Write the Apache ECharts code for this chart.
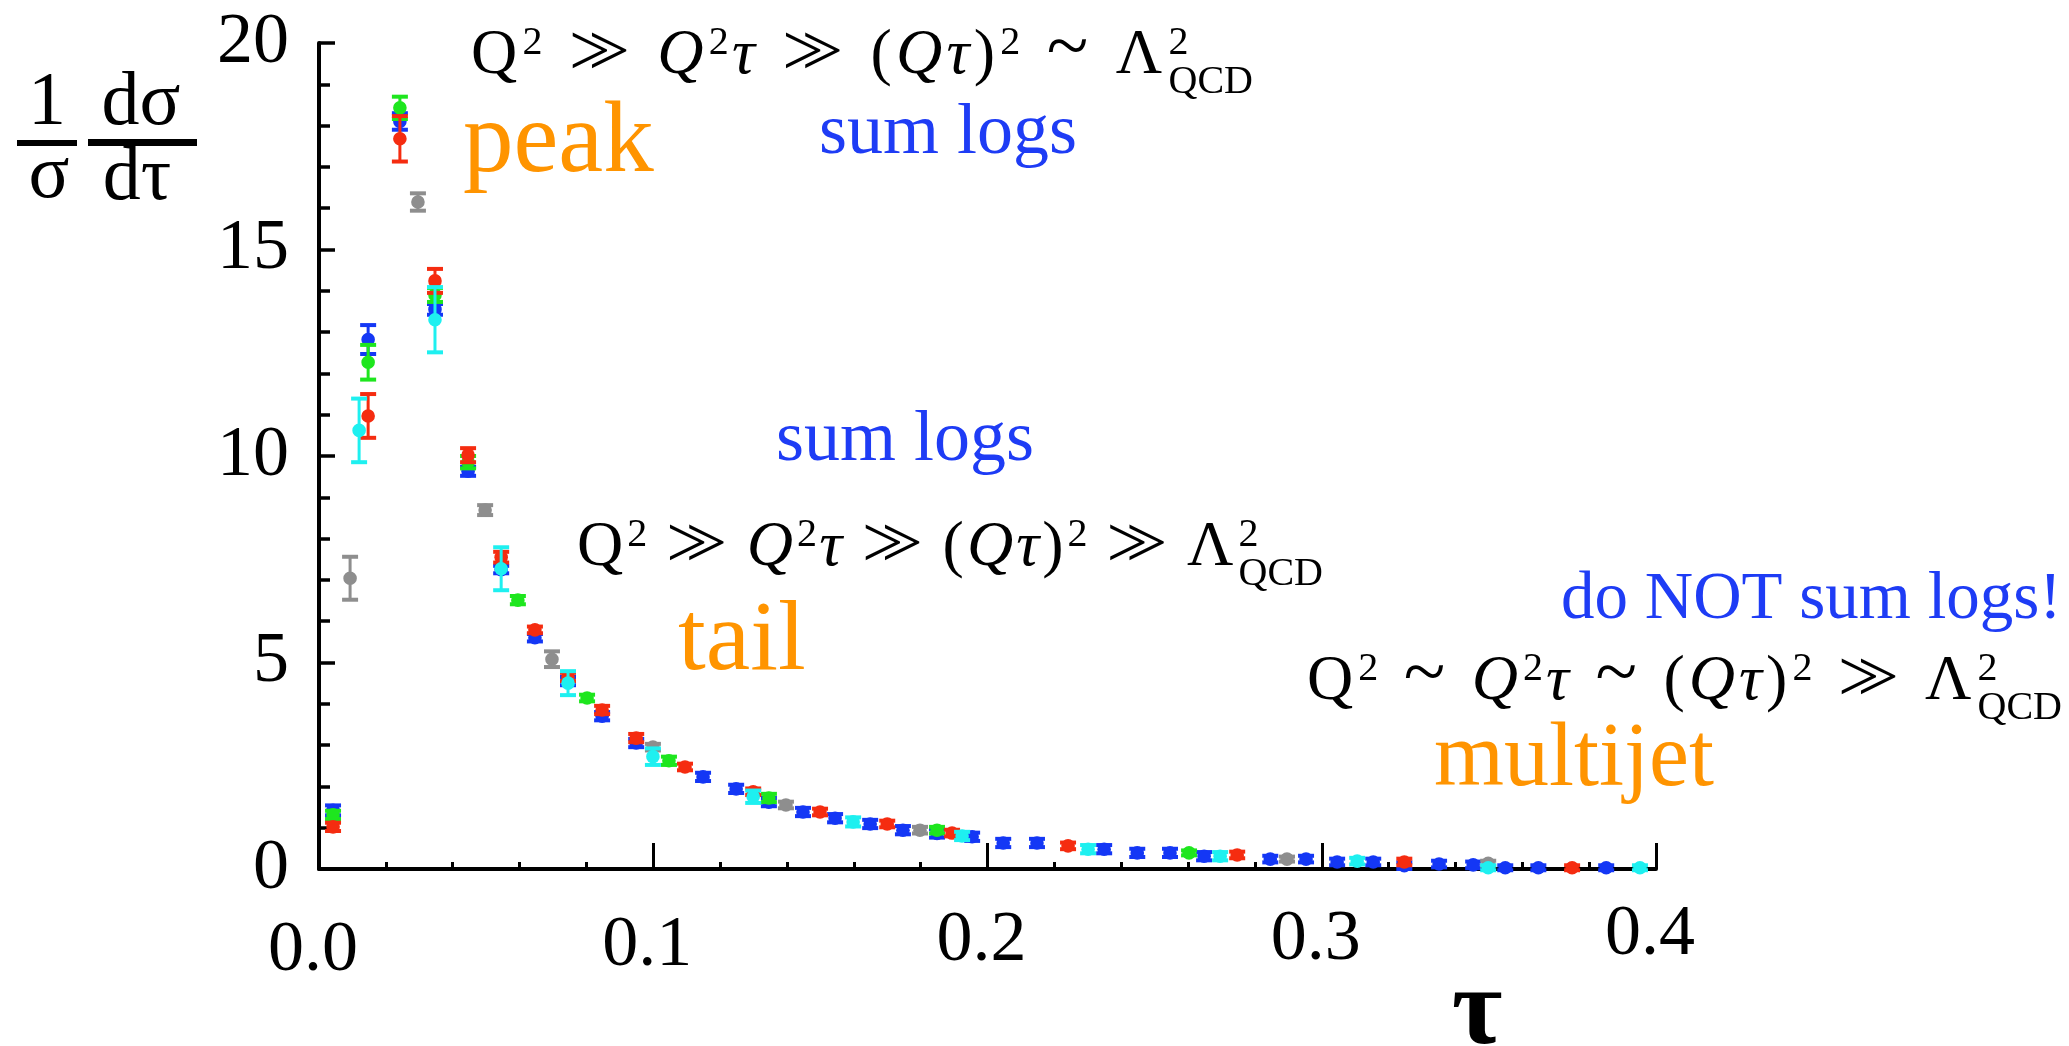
<!DOCTYPE html>
<html>
<head>
<meta charset="utf-8">
<script src="https://cdn.jsdelivr.net/npm/echarts@6/dist/echarts.min.js"></script>
<style>
  html, body { margin: 0; padding: 0; background: #fff; }
  #chart { width: 2069px; height: 1046px; }
</style>
</head>
<body>
<div id="chart"></div>
<script>
// Axis ticks
const xTicks = [0, 0.1, 0.2, 0.3, 0.4];
const yTicks = [0, 5, 10, 15, 20];

// Thrust distribution measurements: [tau, (1/sigma) dsigma/dtau, error]
const blueData = [
  [0.0042, 1.42, 0.12], [0.0147, 12.82, 0.35], [0.0242, 18.10, 0.20], [0.0347, 13.55, 0.13],
  [0.0446, 9.63, 0.11], [0.0545, 7.25, 0.09], [0.0646, 5.60, 0.09], [0.0745, 4.55, 0.10],
  [0.0847, 3.70, 0.10], [0.0949, 3.05, 0.10], [0.1149, 2.23, 0.10], [0.1248, 1.94, 0.10],
  [0.1346, 1.62, 0.10], [0.1448, 1.38, 0.10], [0.1544, 1.23, 0.10], [0.1649, 1.09, 0.10],
  [0.1747, 0.94, 0.10], [0.1849, 0.86, 0.10], [0.1954, 0.78, 0.10], [0.2047, 0.63, 0.10],
  [0.2148, 0.63, 0.10], [0.2349, 0.48, 0.10], [0.2448, 0.39, 0.10], [0.2546, 0.39, 0.10],
  [0.2648, 0.31, 0.10], [0.2846, 0.24, 0.08], [0.2953, 0.24, 0.08], [0.3046, 0.17, 0.08],
  [0.3154, 0.17, 0.08], [0.3247, 0.08, 0.08], [0.3351, 0.12, 0.08], [0.3453, 0.10, 0.08],
  [0.3549, 0.03, 0.06], [0.3648, 0.03, 0.06], [0.3851, 0.03, 0.06]
];
const greenData = [
  [0.0042, 1.31, 0.10], [0.0147, 12.27, 0.42], [0.0242, 18.43, 0.27], [0.0347, 13.90, 0.17],
  [0.0446, 9.85, 0.15], [0.0595, 6.51, 0.10], [0.0802, 4.14, 0.08], [0.1047, 2.62, 0.10],
  [0.1346, 1.72, 0.10], [0.1849, 0.94, 0.08], [0.2603, 0.39, 0.06]
];
const redData = [
  [0.0042, 1.02, 0.10], [0.0147, 10.97, 0.53], [0.0242, 17.68, 0.55], [0.0347, 14.24, 0.29],
  [0.0446, 10.02, 0.17], [0.0545, 7.55, 0.13], [0.0646, 5.79, 0.08], [0.0745, 4.65, 0.10],
  [0.0847, 3.85, 0.10], [0.0949, 3.17, 0.10], [0.1095, 2.47, 0.08], [0.1299, 1.87, 0.08],
  [0.1499, 1.38, 0.08], [0.1700, 1.09, 0.08], [0.1894, 0.87, 0.08], [0.2241, 0.56, 0.08],
  [0.2747, 0.34, 0.08], [0.3247, 0.17, 0.08], [0.3749, 0.03, 0.06]
];
const grayData = [
  [0.0093, 7.04, 0.52], [0.0296, 16.15, 0.21], [0.0497, 8.69, 0.12], [0.0697, 5.08, 0.19],
  [0.0999, 2.95, 0.08], [0.1397, 1.55, 0.08], [0.1798, 0.94, 0.08], [0.2896, 0.24, 0.06],
  [0.3498, 0.14, 0.06]
];
const cyanData = [
  [0.0120, 10.62, 0.77], [0.0347, 13.30, 0.79], [0.0545, 7.27, 0.52], [0.0745, 4.50, 0.29],
  [0.0999, 2.72, 0.20], [0.1299, 1.75, 0.15], [0.1598, 1.14, 0.11], [0.1924, 0.80, 0.10],
  [0.2301, 0.48, 0.10], [0.2696, 0.31, 0.10], [0.3106, 0.19, 0.08], [0.3498, 0.03, 0.06],
  [0.3952, 0.03, 0.06]
];

const COLORS = { blue: '#1437F5', green: '#1EE61E', red: '#F52C10', gray: '#8E8E8E', cyan: '#1EF0F0' };
const ORANGE = '#FF9400';
const TEXT_BLUE = '#1E3CF5';
const FF = '"Liberation Serif", "DejaVu Serif", serif';

// Point with vertical error bar and caps
function pointWithError(color) {
  return function (params, api) {
    const x = api.value(0), y = api.value(1), e = api.value(2);
    const c = api.coord([x, y]);
    const top = api.coord([x, y + e])[1];
    const bot = api.coord([x, y - e])[1];
    const capW = 16, capH = 4;
    return {
      type: 'group',
      children: [
        { type: 'line', shape: { x1: c[0], y1: top, x2: c[0], y2: bot }, style: { stroke: color, lineWidth: 3 } },
        { type: 'rect', shape: { x: c[0] - capW / 2, y: top - capH / 2, width: capW, height: capH }, style: { fill: color } },
        { type: 'rect', shape: { x: c[0] - capW / 2, y: bot - capH / 2, width: capW, height: capH }, style: { fill: color } },
        { type: 'circle', shape: { cx: c[0], cy: c[1], r: 6.8 }, style: { fill: color } }
      ]
    };
  };
}

function seriesFor(data, color) {
  return {
    type: 'custom',
    data: data,
    clip: false,
    encode: { x: 0, y: 1 },
    renderItem: pointWithError(color),
    silent: true
  };
}

// Text helpers: place a string by its alphabetic baseline
const mctx = document.createElement('canvas').getContext('2d');
function textWidth(t, size, italic) {
  mctx.font = (italic ? 'italic ' : '') + size + 'px ' + FF;
  return mctx.measureText(t).width;
}
function textEl(t, x, baseline, size, opts) {
  opts = opts || {};
  return {
    type: 'text', x: x, y: baseline - 0.3375 * size, silent: true,
    style: {
      text: t, fontSize: size, fontFamily: FF,
      fontStyle: opts.italic ? 'italic' : 'normal',
      fontWeight: opts.bold ? 'bold' : 'normal',
      fill: opts.color || '#000',
      align: opts.align || 'left', verticalAlign: 'middle'
    }
  };
}

// Inline formula layout: r = upright, i = italic, sup = superscript,
// gg = much-greater (two nested '>'), sim = similar (tilde),
// ss = stacked superscript|subscript
const GG_SCALE = 1.15;
const GG_SHIFT = 0.3;
const SIM_SCALE = 1.2;
function tokenWidth(t, k, main, small) {
  if (k === 'sup') return textWidth(t, small, false);
  if (k === 'ss') { const p = t.split('|'); return Math.max(textWidth(p[0], small), textWidth(p[1], small)); }
  if (k === 'gg') return textWidth('>', main * GG_SCALE, false) + GG_SHIFT * main;
  if (k === 'sim') return textWidth('~', main * SIM_SCALE, false);
  return textWidth(t, main, k === 'i');
}
function formula(tokens, x0, x1, baseline, main, small) {
  const widths = tokens.map(([t, k]) => tokenWidth(t, k, main, small));
  const nat = widths.reduce((a, b) => a + b, 0);
  const isRel = k => k === 'sim' || k === 'gg';
  const nRel = tokens.filter(tk => isRel(tk[1])).length;
  const slack = Math.max(0, x1 - x0 - nat);
  const step = 0.3 * slack / (tokens.length - 1);
  const gap = 0.7 * slack / (2 * nRel);
  const els = [];
  let x = x0;
  tokens.forEach(([t, k], i) => {
    if (isRel(k)) x += gap;
    if (k === 'sup') {
      els.push(textEl(t, x + 1, baseline - 0.33 * main, small));
    } else if (k === 'ss') {
      const p = t.split('|');
      els.push(textEl(p[0], x + 2, baseline - 0.33 * main, small));
      els.push(textEl(p[1], x + 2, baseline + 0.28 * main, small));
    } else if (k === 'gg') {
      const gb = baseline + 0.04 * main;
      els.push(textEl('>', x, gb, main * GG_SCALE));
      els.push(textEl('>', x + GG_SHIFT * main, gb, main * GG_SCALE));
    } else if (k === 'sim') {
      els.push(textEl('~', x, baseline - 0.02 * main, main * SIM_SCALE));
    } else {
      els.push(textEl(t, x, baseline, main, { italic: k === 'i' }));
    }
    x += widths[i] + step;
    if (isRel(k)) x += gap;
  });
  return els;
}

const peakRegime = [['Q', 'r'], ['2', 'sup'], ['', 'gg'], ['Q', 'i'], ['2', 'sup'], ['τ', 'i'], ['', 'gg'],
  ['(', 'r'], ['Q', 'i'], ['τ', 'i'], [')', 'r'], ['2', 'sup'], ['', 'sim'], ['Λ', 'r'], ['2|QCD', 'ss']];
const tailRegime = [['Q', 'r'], ['2', 'sup'], ['', 'gg'], ['Q', 'i'], ['2', 'sup'], ['τ', 'i'], ['', 'gg'],
  ['(', 'r'], ['Q', 'i'], ['τ', 'i'], [')', 'r'], ['2', 'sup'], ['', 'gg'], ['Λ', 'r'], ['2|QCD', 'ss']];
const multijetRegime = [['Q', 'r'], ['2', 'sup'], ['', 'sim'], ['Q', 'i'], ['2', 'sup'], ['τ', 'i'], ['', 'sim'],
  ['(', 'r'], ['Q', 'i'], ['τ', 'i'], [')', 'r'], ['2', 'sup'], ['', 'gg'], ['Λ', 'r'], ['2|QCD', 'ss']];

const graphics = [].concat(
  // y-axis title: (1/σ)(dσ/dτ)
  [
    textEl('1', 47, 130, 76, { align: 'center' }),
    { type: 'rect', silent: true, shape: { x: 17, y: 140, width: 60, height: 6 }, style: { fill: '#000' } },
    textEl('σ', 49, 203, 76, { align: 'center' }),
    textEl('dσ', 141, 130, 76, { align: 'center' }),
    { type: 'rect', silent: true, shape: { x: 88, y: 139, width: 109, height: 7 }, style: { fill: '#000' } },
    textEl('dτ', 137, 205, 76, { align: 'center' }),
    textEl('τ', 1477, 1052, 110, { align: 'center', bold: true })
  ],
  formula(peakRegime, 471, 1251, 78, 64, 40),
  formula(tailRegime, 577, 1321, 570, 64, 40),
  formula(multijetRegime, 1307, 2060, 704, 64, 40),
  [
    textEl('peak', 463, 179, 101, { color: ORANGE }),
    textEl('sum logs', 819, 158, 72, { color: TEXT_BLUE }),
    textEl('sum logs', 776, 465, 72, { color: TEXT_BLUE }),
    textEl('tail', 678, 676, 100, { color: ORANGE }),
    textEl('do NOT sum logs!', 1561, 623, 67, { color: TEXT_BLUE }),
    textEl('multijet', 1434, 792, 90, { color: ORANGE })
  ]
);

const xLabelRich = {};
const xLabelShift = [16, 11, 6, 5, 0];
xTicks.forEach((v, i) => {
  xLabelRich['t' + i] = { fontSize: 72, fontFamily: FF, color: '#000', padding: [xLabelShift[i], 12, 0, 0] };
});

const chart = echarts.init(document.getElementById('chart'), null, { renderer: 'canvas' });
chart.setOption({
  animation: false,
  backgroundColor: '#fff',
  grid: { left: 319, top: 43, width: 1337, height: 826, containLabel: false, outerBoundsMode: 'none' },
  xAxis: {
    type: 'value', min: xTicks[0], max: xTicks[xTicks.length - 1], interval: 0.1,
    axisLine: { show: true, lineStyle: { color: '#000', width: 4 } },
    axisTick: { show: true, inside: true, length: 26, lineStyle: { color: '#000', width: 3 } },
    minorTick: { show: true, splitNumber: 5, length: 7, lineStyle: { color: '#000', width: 3 } },
    splitLine: { show: false },
    minorSplitLine: { show: false },
    axisLabel: {
      margin: 30,
      formatter: function (v) {
        const i = xTicks.findIndex(t => Math.abs(t - v) < 1e-9);
        return '{t' + i + '|' + v.toFixed(1) + '}';
      },
      rich: xLabelRich
    }
  },
  yAxis: {
    type: 'value', min: yTicks[0], max: yTicks[yTicks.length - 1], interval: 5,
    axisLine: { show: true, lineStyle: { color: '#000', width: 4 } },
    axisTick: { show: true, inside: true, length: 16, lineStyle: { color: '#000', width: 3.5 } },
    minorTick: { show: true, splitNumber: 5, length: 11, lineStyle: { color: '#000', width: 3.5 } },
    splitLine: { show: false },
    minorSplitLine: { show: false },
    axisLabel: {
      margin: 30, fontSize: 72, fontFamily: FF, color: '#000',
      formatter: v => String(yTicks.find(t => t === v))
    }
  },
  series: [
    seriesFor(blueData, COLORS.blue),
    seriesFor(greenData, COLORS.green),
    seriesFor(redData, COLORS.red),
    seriesFor(grayData, COLORS.gray),
    seriesFor(cyanData, COLORS.cyan)
  ],
  graphic: graphics
});
</script>
</body>
</html>
